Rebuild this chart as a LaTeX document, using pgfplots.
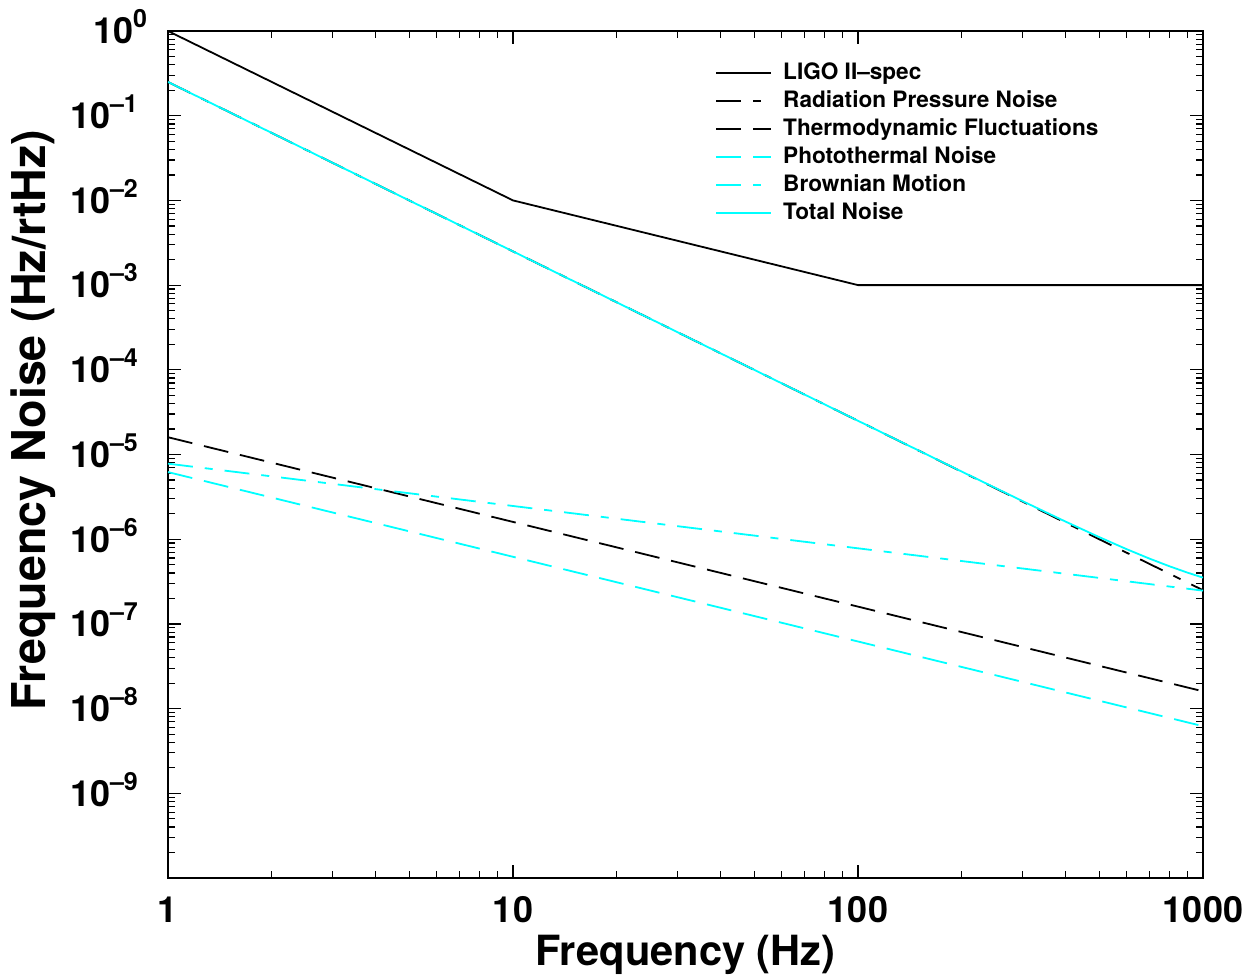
\documentclass[border=0pt]{standalone}
\usepackage{fontspec}
\setmainfont{TeX Gyre Heros}
\usepackage{pgfplots}
\pgfplotsset{compat=1.18}
\usetikzlibrary{calc}
\definecolor{idlcyan}{RGB}{0,255,255}

% 10^n with a big raised exponent, like the IDL labels
\newcommand{\pw}[1]{10\raisebox{8bp}[0pt][0pt]{\fontsize{12.5bp}{12.5bp}\selectfont\bfseries #1}}

\begin{document}
\begin{tikzpicture}
\begin{axis}[
    name=ax,
    scale only axis,
    width=517.5bp, height=423.5bp,
    xmode=log, ymode=log,
    xmin=1, xmax=1000, ymin=1e-10, ymax=1,
    xtick={1,10,100,1000},
    xticklabels={1,10,100,1000},
    minor xtick={2,3,4,5,6,7,8,9,20,30,40,50,60,70,80,90,200,300,400,500,600,700,800,900},
    ytick={1e-9,1e-8,1e-7,1e-6,1e-5,1e-4,1e-3,1e-2,1e-1,1},
    yticklabels={\pw{–9},\pw{–8},\pw{–7},\pw{–6},\pw{–5},\pw{–4},\pw{–3},\pw{–2},\pw{–1},\hspace*{11.5bp}\pw{0}},
    minor ytick={2e-10,3e-10,4e-10,5e-10,6e-10,7e-10,8e-10,9e-10,
                 2e-9,3e-9,4e-9,5e-9,6e-9,7e-9,8e-9,9e-9,
                 2e-8,3e-8,4e-8,5e-8,6e-8,7e-8,8e-8,9e-8,
                 2e-7,3e-7,4e-7,5e-7,6e-7,7e-7,8e-7,9e-7,
                 2e-6,3e-6,4e-6,5e-6,6e-6,7e-6,8e-6,9e-6,
                 2e-5,3e-5,4e-5,5e-5,6e-5,7e-5,8e-5,9e-5,
                 2e-4,3e-4,4e-4,5e-4,6e-4,7e-4,8e-4,9e-4,
                 2e-3,3e-3,4e-3,5e-3,6e-3,7e-3,8e-3,9e-3,
                 2e-2,3e-2,4e-2,5e-2,6e-2,7e-2,8e-2,9e-2,
                 2e-1,3e-1,4e-1,5e-1,6e-1,7e-1,8e-1,9e-1},
    tick align=inside,
    major tick length=6.5bp,
    minor tick length=3.5bp,
    tick style={black, line width=0.6bp},
    axis line style={line width=0.9bp},
    ticklabel style={font=\fontsize{18bp}{20bp}\selectfont\bfseries},
    xticklabel style={anchor=base, yshift=-22bp},
    yticklabel style={anchor=west, xshift=-52.5bp},
    xlabel={Frequency (Hz)},
    xlabel style={font=\fontsize{20.8bp}{22bp}\selectfont\bfseries,
        at={(axis description cs:0.5,0)}, anchor=base, yshift=-43.5bp},
    ylabel={Frequency Noise (Hz/rtHz)},
    ylabel style={font=\fontsize{23.3bp}{25bp}\selectfont\bfseries,
        at={(axis description cs:-0.1188,0.5407)}, rotate=0, anchor=base},
    legend style={draw=none, fill=none, at={(0.5285,0.9658)}, anchor=north west,
        inner sep=0pt, row sep=1bp, column sep=5.5bp,
        font=\fontsize{11.3bp}{13bp}\selectfont\bfseries,
        nodes={inner xsep=0pt, inner ysep=1bp, text height=8.5bp, text depth=2.5bp}},
    legend cell align=left,
    legend image code/.code={\draw[#1] (0bp,0bp) -- (27.5bp,0bp);},
    every axis plot/.append style={line width=0.9bp},
]
% LIGO II spec
\addplot[black] coordinates {(1,1) (10,1e-2) (100,1e-3) (1000,1e-3)};
% radiation pressure
\addplot[black, dash pattern=on 12.5bp off 6bp on 4bp off 6bp] coordinates {(1,0.25) (1000,2.5e-7)};
% thermodynamic fluctuations
\addplot[black, dash pattern=on 12.5bp off 6bp] coordinates {(1,1.6e-5) (1000,1.6e-8)};
% photothermal
\addplot[idlcyan, dash pattern=on 12.5bp off 6bp] coordinates {(1,6.2e-6) (1000,6.2e-9)};
% brownian motion
\addplot[idlcyan, dash pattern=on 12.5bp off 6bp on 4bp off 6bp] coordinates {(1,7.8e-6) (1000,2.47e-7)};
% total
\addplot[idlcyan] coordinates {
    (1,0.25) (10,2.5e-3) (30,2.778e-4) (100,2.501e-5) (150,1.113e-5)
    (200,6.275e-6) (300,2.815e-6) (400,1.611e-6) (500,1.0596e-6)
    (600,7.645e-7) (700,5.897e-7) (800,4.786e-7) (900,4.04e-7) (1000,3.52e-7)};
\legend{LIGO II–spec, Radiation Pressure Noise, Thermodynamic Fluctuations,
        Photothermal Noise, Brownian Motion, Total Noise}
\end{axis}
\pgfresetboundingbox
\path ($(ax.south west)+(-84bp,-49.5bp)$) rectangle ($(ax.north east)+(26.5bp,15.5bp)$);
\end{tikzpicture}
\end{document}
